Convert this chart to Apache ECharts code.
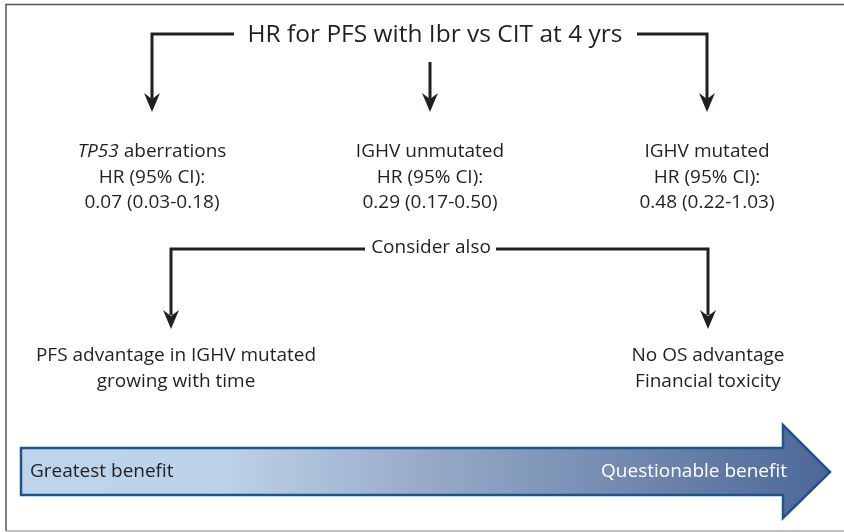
<!DOCTYPE html>
<html>
<head>
<meta charset="utf-8">
<script src="https://cdn.jsdelivr.net/npm/echarts@6/dist/echarts.min.js"></script>
<style>
html,body{margin:0;padding:0;background:#fff;}
#main{width:844px;height:532px;}
</style>
</head>
<body>
<div id="main"></div>
<script>
// ---- content (text data) ----
var titleText = 'HR for PFS with Ibr vs CIT at 4 yrs';
var groupNames = ['{i|TP53} aberrations', 'IGHV unmutated', 'IGHV mutated'];
var hrLabel = 'HR (95% CI):';
var hrValues = ['0.07 (0.03-0.18)', '0.29 (0.17-0.50)', '0.48 (0.22-1.03)'];
var considerText = 'Consider also';
var considerLeft = ['PFS advantage in IGHV mutated', 'growing with time'];
var considerRight = ['No OS advantage', 'Financial toxicity'];
var scaleLabels = ['Greatest benefit', 'Questionable benefit'];

// ---- layout ----
var FONT = '"Open Sans", Lato, sans-serif';
var INK = '#231f20';
var els = [];

function line(points, color, w) {
  els.push({type: 'polyline', shape: {points: points},
    style: {stroke: color || INK, lineWidth: w || 3, fill: null}, z: 2});
}
function head(x, ty) {
  els.push({type: 'polygon',
    shape: {points: [[x, ty], [x - 8, ty - 19], [x, ty - 13], [x + 8, ty - 19]]},
    style: {fill: INK}, z: 3});
}
function text(str, x, y, size, opts) {
  opts = opts || {};
  els.push({type: 'text', x: x, y: y, z: 4,
    style: {text: str, fill: opts.fill || INK, font: size + 'px ' + FONT,
      fontSize: size, fontFamily: FONT,
      align: opts.align || 'center', verticalAlign: 'middle',
      rich: {i: {fontStyle: 'italic', fontSize: size, fontFamily: FONT, fill: opts.fill || INK}}}});
}

// frame
line([[6, 531], [6, 4.5], [844, 4.5]], '#555', 1.5);
line([[6, 531], [844, 531]], '#aaa', 1.5);

// title & top arrows
text(titleText, 435, 35, 24.5);
line([[234, 34], [152, 34], [152, 100]]);
head(152, 112);
line([[637, 34], [707, 34], [707, 100]]);
head(707, 112);
line([[430, 62], [430, 100]]);
head(430, 112);

// group texts
var body = 19;
var colX = [152, 430, 707];
for (var k = 0; k < 3; k++) {
  text(groupNames[k], colX[k], 152, body);
  text(hrLabel, colX[k], 178, body);
  text(hrValues[k], colX[k], 203, body);
}

// consider also
text(considerText, 431, 248, body);
line([[365, 249], [171, 249], [171, 315]]);
head(171, 329);
line([[496, 249], [708, 249], [708, 315]]);
head(708, 329);
text(considerLeft[0], 176, 356, body);
text(considerLeft[1], 176, 382, body);
text(considerRight[0], 708, 356, body);
text(considerRight[1], 708, 382, body);

// gradient arrow
els.push({type: 'polygon', z: 1,
  shape: {points: [[21, 448], [783, 448], [783, 425], [830, 472], [783, 518], [783, 495], [21, 495]]},
  style: {stroke: '#1d5588', lineWidth: 2.5, lineJoin: 'miter',
    fill: {type: 'linear', x: 0, y: 0, x2: 1, y2: 0,
      colorStops: [{offset: 0, color: '#bed4ea'}, {offset: 0.25, color: '#bcd2e8'},
                   {offset: 0.5, color: '#97abc8'}, {offset: 1, color: '#4c6797'}]}}});
text(scaleLabels[0], 30, 472, body);
els[els.length - 1].style.align = 'left';
text(scaleLabels[1], 787, 472, body, {align: 'right', fill: '#ffffff'});

var chart = echarts.init(document.getElementById('main'));
chart.setOption({animation: false, graphic: {elements: els}});
</script>
</body>
</html>
